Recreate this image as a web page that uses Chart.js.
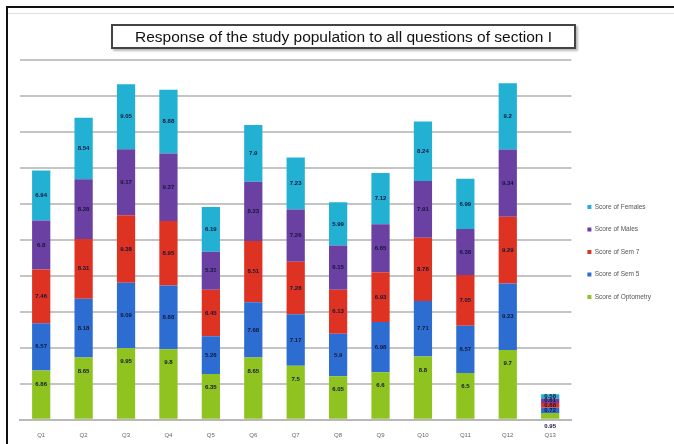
<!DOCTYPE html>
<html>
<head>
<meta charset="utf-8">
<script src="https://cdn.jsdelivr.net/npm/chart.js@4.4.1/dist/chart.umd.min.js"></script>
<style>
  html, body { margin: 0; padding: 0; background: #fff; }
  #wrap { position: relative; width: 674px; height: 444px; overflow: hidden; background: #fff; }
  #frame { position: absolute; left: 6px; top: 6px; width: 700px; height: 460px; border-left: 2px solid #111; border-top: 2px solid #111; box-sizing: border-box; }
  #rule { position: absolute; left: 8px; top: 13px; width: 666px; height: 1px; background: #ddd; }
  #title { position: absolute; left: 111px; top: 24px; width: 465px; height: 25px; box-sizing: border-box;
           border: 2px solid #444; box-shadow: 2px 2px 2px #bbb; background: #fff;
           font: 15.5px "Liberation Sans", Arial, sans-serif; color: #111; text-align: center; line-height: 21px; }
  canvas { position: absolute; left: 0; top: 0; }
</style>
</head>
<body>
<div id="wrap">
  <canvas id="c" width="674" height="444"></canvas>
  <div id="frame"></div>
  <div id="rule"></div>
  <div id="title">Response of the study population to all questions of section I</div>
</div>
<script>
const questions = ['Q1', 'Q2', 'Q3', 'Q4', 'Q5', 'Q6', 'Q7', 'Q8', 'Q9', 'Q10', 'Q11', 'Q12', 'Q13'];

const optometry = [6.86, 8.65, 9.95, 9.8, 6.35, 8.65, 7.5, 6.05, 6.6, 8.8, 6.5, 9.7, 0.95];
const sem5      = [6.57, 8.18, 9.09, 8.88, 5.26, 7.68, 7.17, 5.9, 6.98, 7.71, 6.57, 9.23, 0.72];
const sem7      = [7.46, 8.31, 9.38, 8.95, 6.45, 8.51, 7.28, 6.13, 6.93, 8.78, 7.05, 9.29, 0.68];
const males     = [6.8, 8.28, 9.17, 9.37, 5.31, 8.23, 7.26, 6.15, 6.65, 7.91, 6.38, 9.34, 0.61];
const females   = [6.94, 8.54, 9.05, 8.88, 6.19, 7.9, 7.23, 5.99, 7.12, 8.24, 6.99, 9.2, 0.58];

const seriesNames = ['Score of Optometry', 'Score of Sem 5', 'Score of Sem 7', 'Score of Males', 'Score of Females'];
const seriesColors = ['#8fc31f', '#2d6dd2', '#de3322', '#6a40a3', '#22b1d3'];
const seriesValues = [optometry, sem5, sem7, males, females];

// Writes each segment's value inside its bar; the bottom segment's label sits near its top.
const segmentLabels = {
  id: 'segmentLabels',
  afterDatasetsDraw(chart) {
    const ctx = chart.ctx;
    ctx.save();
    ctx.font = 'bold 6px "Liberation Sans", Arial, sans-serif';
    ctx.fillStyle = '#15153a';
    ctx.textAlign = 'center';
    ctx.textBaseline = 'middle';
    chart.data.datasets.forEach((ds, i) => {
      const meta = chart.getDatasetMeta(i);
      meta.data.forEach((bar, j) => {
        const p = bar.getProps(['x', 'y', 'base'], true);
        const y = i === 0 ? p.y + 13.5 : (p.y + p.base) / 2;
        ctx.fillText(String(ds.data[j]), p.x, y);
      });
    });
    ctx.restore();
  }
};

new Chart(document.getElementById('c'), {
  type: 'bar',
  data: {
    labels: questions,
    datasets: seriesValues.map((vals, i) => ({
      label: seriesNames[i],
      data: vals,
      backgroundColor: seriesColors[i],
      borderWidth: 0,
      categoryPercentage: 1,
      barPercentage: 0.43
    }))
  },
  options: {
    responsive: false,
    animation: false,
    layout: { padding: { left: 20, right: 13, top: 60, bottom: 0 } },
    plugins: {
      title: { display: false },
      tooltip: { enabled: false },
      legend: {
        position: 'right',
        reverse: true,
        labels: {
          boxWidth: 4, boxHeight: 4, padding: 16,
          color: '#555',
          font: { size: 6.5, family: '"Liberation Sans", Arial, sans-serif' }
        }
      }
    },
    scales: {
      x: {
        stacked: true,
        grid: { display: false },
        border: { display: true, color: '#b8b8b8', width: 2 },
        ticks: { color: '#666', padding: 4, font: { size: 6, family: '"Liberation Sans", Arial, sans-serif' } },
        afterFit(scale) { scale.height = 24.2; }
      },
      y: {
        stacked: true,
        min: 0, max: 50,
        ticks: { display: false, stepSize: 5 },
        border: { display: false },
        grid: { color: '#c4c4c4', lineWidth: 2, drawTicks: false }
      }
    }
  },
  plugins: [segmentLabels]
});
</script>
</body>
</html>
